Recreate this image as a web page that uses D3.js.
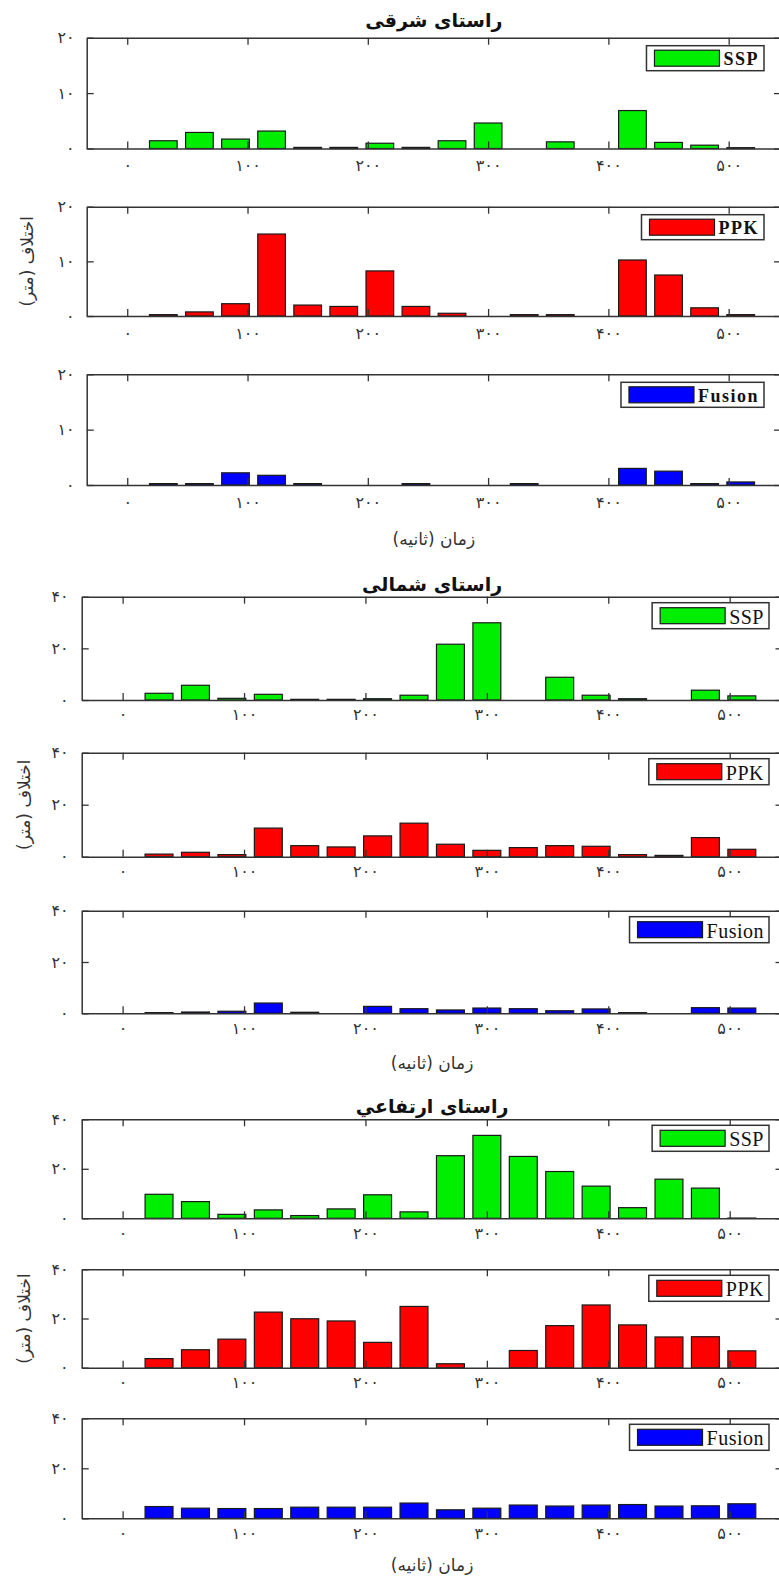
<!DOCTYPE html>
<html><head><meta charset="utf-8">
<script src="https://cdn.jsdelivr.net/npm/d3@7"></script>
<style>body{margin:0;background:#fff} svg{display:block}</style>
</head><body><svg id="c" width="779" height="1579"></svg>
<script>
// ---------- data ----------
const times = [30,60,90,120,150,180,210,240,270,300,330,360,390,420,450,480,510];
const xTickValues = [0,100,200,300,400,500];
const seriesNames = ["SSP","PPK","Fusion"];
const seriesColors = ["#00ee00","#ff0000","#0000ff"];
const groupTitles = ["راستای شرقی","راستای شمالی","راستای ارتفاعي"];
const yLabelText = "اختلاف (متر)";
const xLabelText = "زمان (ثانیه)";
const yTicksEast = [0,10,20];
const yTicksNorth = [0,20,40];
const yTicksUp = [0,20,40];
const eastSSP    = [1.4,2.9,1.7,3.15,0.2,0.2,0.95,0.2,1.4,4.6,0,1.2,0,6.85,1.1,0.6,0.15];
const eastPPK    = [0.25,0.75,2.25,15.0,2.0,1.75,8.25,1.75,0.5,0,0.25,0.25,0,10.25,7.5,1.5,0.25];
const eastFusion = [0.25,0.25,2.2,1.75,0.25,0,0,0.25,0,0,0.25,0,0,3.0,2.5,0.25,0.55];
const northSSP    = [2.6,5.7,0.65,2.2,0.26,0.26,0.5,1.85,21.6,29.9,0,8.8,1.85,0.5,0,3.8,1.6];
const northPPK    = [1.0,1.7,0.8,11.0,4.25,3.75,8.0,12.9,4.8,2.45,3.5,4.25,4.0,0.8,0.5,7.35,2.85];
const northFusion = [0.26,0.5,0.8,4.0,0.4,0,2.7,1.8,1.3,2.05,1.8,1.0,1.7,0.26,0,2.2,2.05];
const upSSP    = [9.7,6.75,1.6,3.4,1.1,3.8,9.5,2.6,25.3,33.5,25.0,18.9,13.0,4.3,15.8,12.2,0.1];
const upPPK    = [3.7,7.3,11.6,22.6,19.9,19.0,10.3,24.9,1.6,0,7.0,17.1,25.5,17.4,12.5,12.6,6.85];
const upFusion = [4.7,4.05,3.9,3.9,4.45,4.45,4.45,6.1,3.4,4.05,5.3,4.9,5.3,5.5,4.9,5.0,5.8];

// ---------- layout ----------
const fa = n => String(n).replace(/\d/g, d => "۰۱۲۳۴۵۶۷۸۹"[d]);
const groups = [
  {title: groupTitles[0], yTicks: yTicksEast, series: [eastSSP, eastPPK, eastFusion],
   xr: [86.7, 781], titleY: 20, xLabelY: 539, yLabelX: 27,
   panels: [[37.7,148.5],[206.7,316],[374.3,485]], tickPad: 11.5, yPad: 12,
   legBold: true, legSize: 18, legSpacing: 1.5, legRight: 764, legTop: 8, legH: 25},
  {title: groupTitles[1], yTicks: yTicksNorth, series: [northSSP, northPPK, northFusion],
   xr: [81.7, 782.5], titleY: 584, xLabelY: 1063, yLabelX: 24,
   panels: [[596.7,700],[752.7,856.7],[910.7,1013.3]], tickPad: 9, yPad: 13,
   legBold: false, legSize: 20, legSpacing: 0.5, legRight: 769, legTop: 6, legH: 26},
  {title: groupTitles[2], yTicks: yTicksUp, series: [upSSP, upPPK, upFusion],
   xr: [81.7, 782.5], titleY: 1106, xLabelY: 1565, yLabelX: 24,
   panels: [[1119.3,1218.3],[1269.3,1367.7],[1418.3,1518.3]], tickPad: 9, yPad: 13,
   legBold: false, legSize: 20, legSpacing: 0.5, legRight: 769, legTop: 6, legH: 26}
];
const xDomain = [-33.7, 543.5];
const barWidthUnits = 23;
const axisColor = "#333";
const persianFont = "'DejaVu Sans', sans-serif";
const latinFont = "'Liberation Serif', 'DejaVu Serif', serif";

const svg = d3.select("#c");

groups.forEach(g => {
  const x = d3.scaleLinear().domain(xDomain).range(g.xr);
  const bw = x(barWidthUnits) - x(0);
  const cx = (g.xr[0] + g.xr[1]) / 2;

  svg.append("text").attr("x", cx).attr("y", g.titleY)
    .attr("text-anchor", "middle").attr("dominant-baseline", "central")
    .attr("direction", "rtl")
    .style("font-family", persianFont).style("font-size", "19px").style("font-weight", "bold")
    .attr("fill", "#111").text(g.title);

  g.panels.forEach((p, i) => {
    const [top, bottom] = p;
    const y = d3.scaleLinear().domain([0, g.yTicks[g.yTicks.length - 1]]).range([bottom, top]);
    const pg = svg.append("g");

    // bars
    pg.selectAll("rect.bar").data(times.map((t, k) => ({t, v: g.series[i][k]})))
      .join("rect").attr("class", "bar")
      .attr("x", d => x(d.t) - bw / 2).attr("width", bw)
      .attr("y", d => y(d.v)).attr("height", d => y(0) - y(d.v))
      .attr("fill", seriesColors[i]).attr("stroke", "#1a1a1a").attr("stroke-width", 1.2);

    const styleAxis = sel => {
      sel.select(".domain").attr("stroke", axisColor).attr("stroke-width", 1.5);
      sel.selectAll(".tick line").attr("stroke", axisColor).attr("stroke-width", 1.3);
      sel.selectAll(".tick text").attr("fill", "#333")
        .style("font-family", persianFont).style("font-size", "16px");
    };

    // bottom axis (labels)
    pg.append("g").attr("transform", `translate(0,${bottom})`)
      .call(d3.axisBottom(x).tickValues(xTickValues).tickSizeInner(-7).tickSizeOuter(0)
        .tickPadding(g.tickPad).tickFormat(fa))
      .call(styleAxis)
      .call(s => s.selectAll(".tick text").style("letter-spacing", "4px"));
    // top axis
    pg.append("g").attr("transform", `translate(0,${top})`)
      .call(d3.axisTop(x).tickValues(xTickValues).tickSizeInner(-7).tickSizeOuter(0).tickFormat(""))
      .call(styleAxis);
    // left axis
    pg.append("g").attr("transform", `translate(${g.xr[0]},0)`)
      .call(d3.axisLeft(y).tickValues(g.yTicks).tickSizeInner(-7).tickSizeOuter(0)
        .tickPadding(g.yPad).tickFormat(fa))
      .call(styleAxis)
      .call(s => s.selectAll(".tick text").style("letter-spacing", "2px"));
    // right axis
    pg.append("g").attr("transform", `translate(${g.xr[1]},0)`)
      .call(d3.axisRight(y).tickValues(g.yTicks).tickSizeInner(-7).tickSizeOuter(0).tickFormat(""))
      .call(styleAxis);

    // legend
    const lg = pg.append("g");
    const txt = lg.append("text")
      .style("font-family", latinFont).style("font-size", g.legSize + "px")
      .style("font-weight", g.legBold ? "bold" : "normal")
      .style("letter-spacing", g.legSpacing + "px")
      .attr("fill", "#111").attr("dominant-baseline", "central")
      .text(seriesNames[i]);
    const tw = txt.node().getComputedTextLength();
    const boxTop = top + g.legTop, boxH = g.legH;
    const textX = g.legRight - 5 - tw;
    const swR = textX - 4, swL = swR - 65;
    const boxL = swL - 8;
    lg.insert("rect", "text").attr("x", boxL).attr("y", boxTop)
      .attr("width", g.legRight - boxL).attr("height", boxH)
      .attr("fill", "#fff").attr("stroke", "#333").attr("stroke-width", 1.5);
    lg.insert("rect", "text").attr("x", swL).attr("y", boxTop + boxH / 2 - 8)
      .attr("width", 65).attr("height", 16)
      .attr("fill", seriesColors[i]).attr("stroke", "#1a1a1a").attr("stroke-width", 1.2);
    txt.attr("x", textX).attr("y", boxTop + boxH / 2 + 1);

    // y label on middle panel
    if (i === 1) {
      svg.append("text")
        .attr("transform", `translate(${g.yLabelX},${(top + bottom) / 2}) rotate(-90)`)
        .attr("text-anchor", "middle").attr("dominant-baseline", "central")
        .attr("direction", "rtl")
        .style("font-family", persianFont).style("font-size", "17px")
        .attr("fill", "#333").text(yLabelText);
    }
  });

  svg.append("text").attr("x", cx).attr("y", g.xLabelY)
    .attr("text-anchor", "middle").attr("dominant-baseline", "central")
    .attr("direction", "rtl")
    .style("font-family", persianFont).style("font-size", "17px")
    .attr("fill", "#333").text(xLabelText);
});
</script>
</body></html>
